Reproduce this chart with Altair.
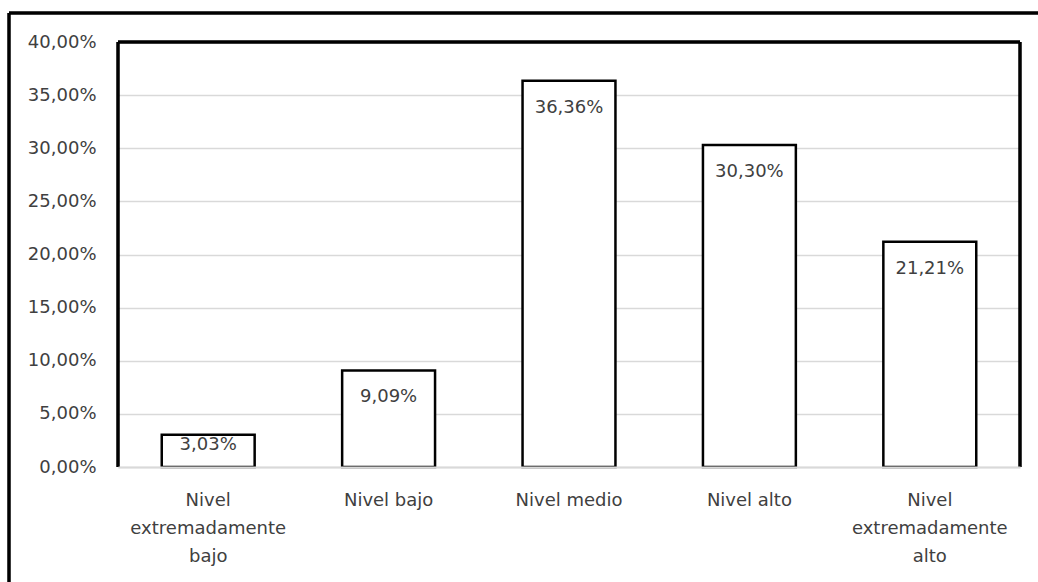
import altair as alt
import pandas as pd

# Distribución por nivel (porcentaje de participantes)
categorias = [
    "Nivel\nextremadamente\nbajo",
    "Nivel bajo",
    "Nivel medio",
    "Nivel alto",
    "Nivel\nextremadamente\nalto",
]
porcentajes = [0.0303, 0.0909, 0.3636, 0.3030, 0.2121]
ticks_y = [0.0, 0.05, 0.10, 0.15, 0.20, 0.25, 0.30, 0.35, 0.40]

df = pd.DataFrame({"nivel": categorias, "pct": porcentajes})

W, H = 902, 425
FONT = "DejaVu Sans"
TXT = "#404040"
GRID = "#d9d9d9"

fmt_pct = "replace(format({v}, '.2%'), '.', ',')"

base = alt.Chart(df)

x_enc = alt.X(
    "nivel:N",
    sort=categorias,
    scale=alt.Scale(paddingInner=0.485, paddingOuter=0.2425),
    axis=alt.Axis(
        title=None,
        labelExpr="split(datum.label, '\\n')",
        labelAngle=0,
        labelBaseline="top",
        labelPadding=24,
        labelLineHeight=28,
        ticks=False,
        domainColor=GRID,
        domainWidth=2,
        zindex=1,
        grid=False,
    ),
)
y_enc = alt.Y(
    "pct:Q",
    scale=alt.Scale(domain=[0, 0.4], nice=False),
    axis=alt.Axis(
        title=None,
        values=ticks_y,
        labelExpr=fmt_pct.format(v="datum.value"),
        ticks=False,
        domain=False,
        gridColor=GRID,
        gridWidth=1.5,
        labelPadding=22,
    ),
)

bars = base.mark_bar(fill="white", stroke="black", strokeWidth=2.5).encode(
    x=x_enc, y=y_enc
)

etiquetas = base.transform_calculate(
    etiqueta=fmt_pct.format(v="datum.pct")
)
texto_alto = etiquetas.transform_filter("datum.pct >= 0.05").mark_text(
    baseline="middle", dy=27, font=FONT, fontSize=18, color=TXT
).encode(x=alt.X("nivel:N", sort=categorias), y="pct:Q", text="etiqueta:N")
texto_bajo = etiquetas.transform_filter("datum.pct < 0.05").mark_text(
    baseline="middle", dy=10, font=FONT, fontSize=18, color=TXT
).encode(x=alt.X("nivel:N", sort=categorias), y="pct:Q", text="etiqueta:N")

# Marco del área de trazado (izquierda, arriba, derecha)
marco_izq = base.mark_rule(color="black", strokeWidth=2.5).encode(
    x=alt.value(0), y=alt.value(0), y2=alt.value(H)
)
marco_sup = base.mark_rule(color="black", strokeWidth=2.5).encode(
    x=alt.value(0), x2=alt.value(W), y=alt.value(0)
)
marco_der = base.mark_rule(color="black", strokeWidth=2.5).encode(
    x=alt.value(W), y=alt.value(0), y2=alt.value(H)
)

# Borde exterior del gráfico
borde_izq = base.mark_rule(color="black", strokeWidth=2.5).encode(
    x=alt.value(-109), y=alt.value(-29), y2=alt.value(H + 200)
)
borde_sup = base.mark_rule(color="black", strokeWidth=2.5).encode(
    x=alt.value(-109), x2=alt.value(W + 200), y=alt.value(-29)
)

chart = (
    alt.layer(bars, texto_alto, texto_bajo, marco_izq, marco_sup, marco_der, borde_izq, borde_sup)
    .properties(
        width=W,
        height=H,
        autosize=alt.AutoSizeParams(type="none"),
        padding={"left": 118, "top": 42, "right": 18, "bottom": 115},
        background="white",
    )
    .configure_view(stroke=None)
    .configure_axis(labelFont=FONT, labelFontSize=18, labelColor=TXT)
)

chart.save("out.html", embed_options={"renderer": "svg", "actions": False})
